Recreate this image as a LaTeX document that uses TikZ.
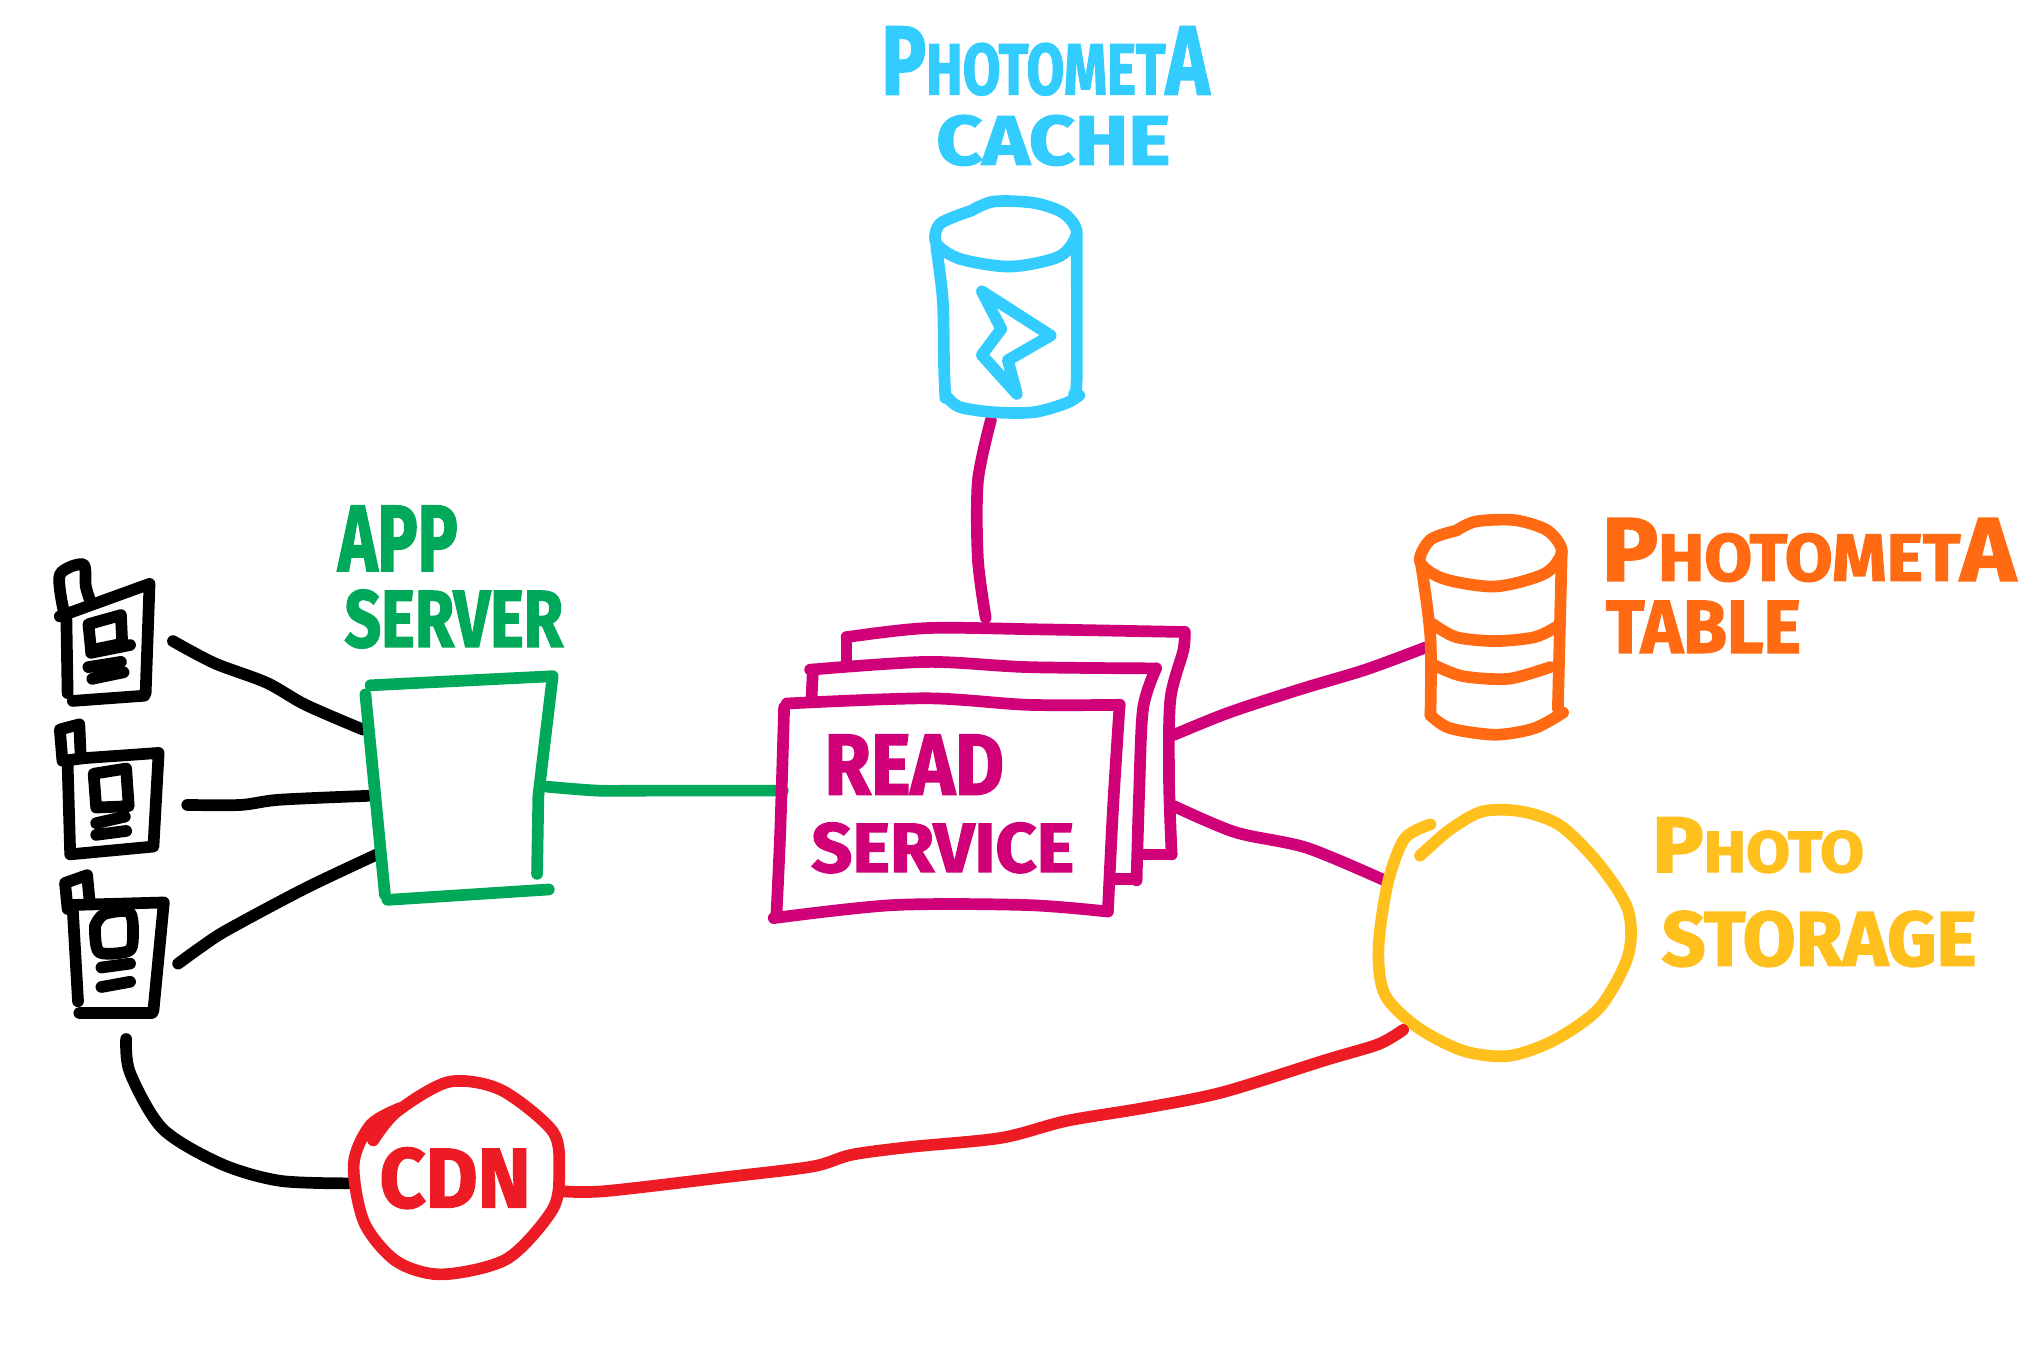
\documentclass[tikz,border=0pt]{standalone}
\usepackage{graphicx}
\usepackage{fontspec}
\setmainfont{Fira Sans}[FakeBold=2]
\definecolor{inkcyan}{HTML}{33CCFF}
\definecolor{inkgreen}{HTML}{00A859}
\definecolor{inkmag}{HTML}{CF0078}
\definecolor{inkorange}{HTML}{FF6A13}
\definecolor{inkyellow}{HTML}{FFC01E}
\definecolor{inkred}{HTML}{ED1C24}
\tikzset{
  pen/.style={line width=9pt,line cap=round,line join=round},
  lbl/.style={inner sep=0pt},
}
\newcommand\curve[2]{\draw[pen,#1] plot[smooth,tension=0.5] coordinates {#2};}
\newcommand\strokes[2]{\draw[pen,#1] #2;}
\newcommand\lbl[7]{\node[lbl,text=#2] (#1) at (#3,#4) {\resizebox{#5pt}{#6pt}{\bfseries #7}};}
\newcommand\bigL[1]{\scalebox{1.35}{#1}}
\begin{document}
\begin{tikzpicture}[x=1pt,y=-1pt]
\useasboundingbox (0,0) rectangle (1568,1043.5);

% connector ends
\coordinate (ph1out) at (133,493);
\coordinate (ph2out) at (144,619);
\coordinate (ph3out) at (137,741);
\coordinate (ph3down) at (97,799);
\coordinate (srv1) at (279,561);
\coordinate (srv2) at (283,612);
\coordinate (srv3) at (290,657);
\coordinate (srvR) at (421,605);
\coordinate (readL) at (602,608);
\coordinate (readT) at (758,475);
\coordinate (cacheB) at (762,323);
\coordinate (readR1) at (903,565);
\coordinate (readR2) at (903,620);
\coordinate (tableL) at (1096,498);
\coordinate (photoL) at (1067,678);
\coordinate (photoB) at (1079,792);
\coordinate (cdnL) at (268,910);
\coordinate (cdnR) at (431,916);

% phones
\curve{black}{(49,470) (46,442) (64,434) (66,451) (69,461)}
\strokes{black}{(46,474) -- (115,449) -- (112,533) -- (111,535) -- (56,539)}
\curve{black}{(51,473) (52,533)}
\strokes{black}{(70,500) -- (68,480) -- (93,473) -- (94,495) -- (70,500)}
\strokes{black}{(70,502) -- (100,496) (68,513) -- (93,509) (71,522) -- (95,517)}

\strokes{black}{(48,585) -- (46,561) -- (61,557) -- (62,581)}
\strokes{black}{(49,585) -- (65,583) -- (122,579) -- (118,651) -- (54,657) -- (52,588)}
\strokes{black}{(74,621) -- (72,595) -- (97,591) -- (99,620) -- (74,621)}
\strokes{black}{(74,633) -- (96,628) (74,642) -- (97,639)}

\strokes{black}{(52,699) -- (50,679) -- (67,673) -- (69,694)}
\strokes{black}{(53,696) -- (126,694) -- (118,777) -- (117,779) -- (61,779)}
\strokes{black}{(56,700) -- (60,770)}
\curve{black}{(73,712) (80,703) (100,702) (102,725) (97,732) (76,732) (73,712)}
\strokes{black}{(78,744) -- (100,741) (78,759) -- (100,755)}

% phone connectors
\curve{black}{(ph1out) (165,510) (205,525) (235,542) (srv1)}
\curve{black}{(ph2out) (185,619) (215,615) (srv2)}
\curve{black}{(ph3out) (155,728) (175,715) (235,683) (srv3)}
\curve{black}{(ph3down) (100,825) (125,868) (170,895) (215,908) (cdnL)}

% app server
\strokes{inkgreen}{(285,527) -- (425,520) -- (414,612) -- (413,672)}
\strokes{inkgreen}{(281,534) -- (296,688)}
\strokes{inkgreen}{(298,692) -- (422,684)}
\curve{inkgreen}{(srvR) (460,608) (500,608) (readL)}

% read service stack
\curve{inkmag}{(651,490) (713,483) (800,484) (911,486)}
\curve{inkmag}{(911,486) (910,500) (900,538) (899,600) (901,657)}
\strokes{inkmag}{(901,657) -- (877,657) (651,490) -- (651,509)}
\curve{inkmag}{(623,515) (713,509) (790,513) (889,514)}
\curve{inkmag}{(889,514) (879,545) (876,610) (874,677)}
\strokes{inkmag}{(874,676) -- (856,676) (625,518) -- (624,538)}
\curve{inkmag}{(605,541) (713,537) (790,542) (861,542)}
\curve{inkmag}{(861,542) (856,620) (852,700)}
\curve{inkmag}{(852,701) (790,696) (687,696) (595,706)}
\curve{inkmag}{(603,544) (600,640) (597,705)}
\curve{inkmag}{(cacheB) (752,370) (752,430) (readT)}
\curve{inkmag}{(readR1) (945,548) (1000,530) (1050,515) (tableL)}
\curve{inkmag}{(readR2) (950,640) (1005,652) (photoL)}

% cache
\curve{inkcyan}{(747,162) (723,172) (720,187) (738,199) (777,205) (815,197) (828,179) (818,164) (795,156) (764,155) (747,162)}
\curve{inkcyan}{(720,190) (725,231) (726,282) (727,306)}
\curve{inkcyan}{(828,180) (828,290) (826,303)}
\curve{inkcyan}{(728,305) (738,313) (764,317) (795,317) (820,310) (830,304)}
\strokes{inkcyan}{(755,224) -- (808,258) -- (775,277) -- (782,303) -- (755,273) -- (770,253) -- cycle}

% table
\curve{inkorange}{(1120,408) (1100,415) (1092,432) (1110,445) (1150,451) (1188,441) (1201,424) (1190,408) (1165,400) (1135,401) (1120,408)}
\curve{inkorange}{(1093,435) (1100,490) (1100,550)}
\curve{inkorange}{(1201,424) (1198,545)}
\curve{inkorange}{(1102,480) (1120,490) (1150,493) (1180,490) (1197,482)}
\curve{inkorange}{(1104,512) (1125,520) (1160,522) (1192,513)}
\curve{inkorange}{(1100,550) (1115,560) (1150,565) (1180,560) (1202,548)}

% photo storage
\curve{inkyellow}{(1092,658) (1115,638) (1140,624) (1170,624) (1200,635) (1230,665) (1252,700) (1252,735) (1230,775) (1195,800) (1160,812) (1125,808) (1090,790) (1065,765) (1060,730) (1067,680) (1080,645) (1100,634)}

% cdn
\curve{inkred}{(287,877) (305,855) (345,832) (385,838) (425,870) (430,900) (425,930) (390,968) (340,980) (305,970) (280,940) (272,895) (285,865) (308,852)}
\curve{inkred}{(cdnR) (465,916) (560,905) (625,897) (655,888) (700,882) (770,875) (820,862) (880,852) (940,840) (1020,815) (1060,803) (photoB)}

% labels
\lbl{cacheA}{inkcyan}{804}{47}{252}{52}{\bigL{P}HOTOMET\bigL{A}}
\lbl{cacheB2}{inkcyan}{810}{108}{180}{38}{CACHE}
\lbl{appA}{inkgreen}{306}{414}{92}{50}{APP}
\lbl{appB}{inkgreen}{349}{476}{168}{44}{SERVER}
\lbl{readA}{inkmag}{703}{588}{138}{46}{READ}
\lbl{readB}{inkmag}{725}{652}{202}{38}{SERVICE}
\lbl{tableA}{inkorange}{1391}{423}{318}{48}{\bigL{P}HOTOMET\bigL{A}}
\lbl{tableB}{inkorange}{1310}{482}{150}{40}{TABLE}
\lbl{storeA}{inkyellow}{1352}{650}{163}{42}{\bigL{P}HOTO}
\lbl{storeB}{inkyellow}{1399}{722}{242}{42}{STORAGE}
\lbl{cdnT}{inkred}{350}{906}{116}{46}{CDN}
\end{tikzpicture}
\end{document}
